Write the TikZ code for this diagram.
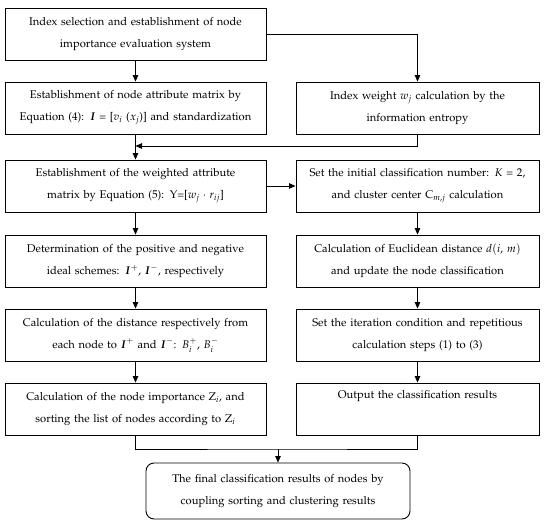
\documentclass[tikz,border=0pt]{standalone}
\usepackage[T1]{fontenc}
\usepackage{mathpazo}
\usepackage{amsmath}
\usetikzlibrary{arrows.meta}
\begin{document}
\begin{tikzpicture}[x=1pt,y=-1pt,
  lbox/.style={draw, line width=0.9pt, minimum height=52pt, text width=255pt, inner xsep=3pt, inner ysep=0pt, align=center, font=\fontsize{11.2}{22}\selectfont},
  rbox/.style={lbox, text width=237pt},
  fbox/.style={lbox, text width=258pt, minimum height=56pt, rounded corners=8pt},
  arr/.style={-{Triangle[length=6.5pt,width=5.5pt]}, line width=0.9pt},
  ln/.style={line width=0.9pt}]
\useasboundingbox (0,0) rectangle (550,528);
\node[lbox] (n1) at (135.5,34) {Index selection and establishment of node\\importance evaluation system};
\node[lbox] (n2) at (135.5,108) {Establishment of node attribute matrix by\\Equation (4): $\boldsymbol{I}$ = [$v_i$ ($x_j$)] and standardization};
\node[rbox] (n3) at (417.5,108) {Index weight $w_j$ calculation by the\\information entropy};
\node[lbox] (n4) at (135.5,186) {Establishment of the weighted attribute\\matrix by Equation (5): Y=[$w_j\cdot r_{ij}$]};
\node[rbox] (n5) at (417.5,186) {Set the initial classification number: $K$ = 2,\\and cluster center C$_{m,j}$ calculation};
\node[lbox] (n6) at (135.5,261) {Determination of the positive and negative\\ideal schemes: $\boldsymbol{I}^{+}$, $\boldsymbol{I}^{-}$, respectively};
\node[rbox] (n7) at (417.5,261) {Calculation of Euclidean distance $d(i,\,m)$\\and update the node classification};
\node[lbox] (n8) at (135.5,335) {Calculation of the distance respectively from\\each node to $\boldsymbol{I}^{+}$ and $\boldsymbol{I}^{-}$: $B_i^{+}$, $B_i^{-}$};
\node[rbox] (n9) at (417.5,335) {Set the iteration condition and repetitious\\calculation steps (1) to (3)};
\node[lbox] (n10) at (135.5,409) {Calculation of the node importance Z$_i$, and\\sorting the list of nodes according to Z$_i$};
\node[rbox] (n11) at (417.5,409) {Output the classification results\\\strut};
\node[fbox] (fin) at (278,491) {The final classification results of nodes by\\coupling sorting and clustering results};
\coordinate (m) at (135.5,146);
\coordinate (j) at (278,449);
\draw[arr] (n1) -- (n2);
\draw[arr] (n1.east) -| (n3.north);
\draw[arr] (n2) -- (n4);
\draw[arr] (n3.south) |- (m);
\draw[arr] (n4) -- (n5);
\draw[arr] (n4) -- (n6);
\draw[arr] (n6) -- (n8);
\draw[arr] (n8) -- (n10);
\draw[arr] (n5) -- (n7);
\draw[arr] (n7) -- (n9);
\draw[arr] (n9) -- (n11);
\draw[ln] (n10.south) |- (j) -| (n11.south);
\draw[arr] (j) -- (fin);
\end{tikzpicture}
\end{document}
